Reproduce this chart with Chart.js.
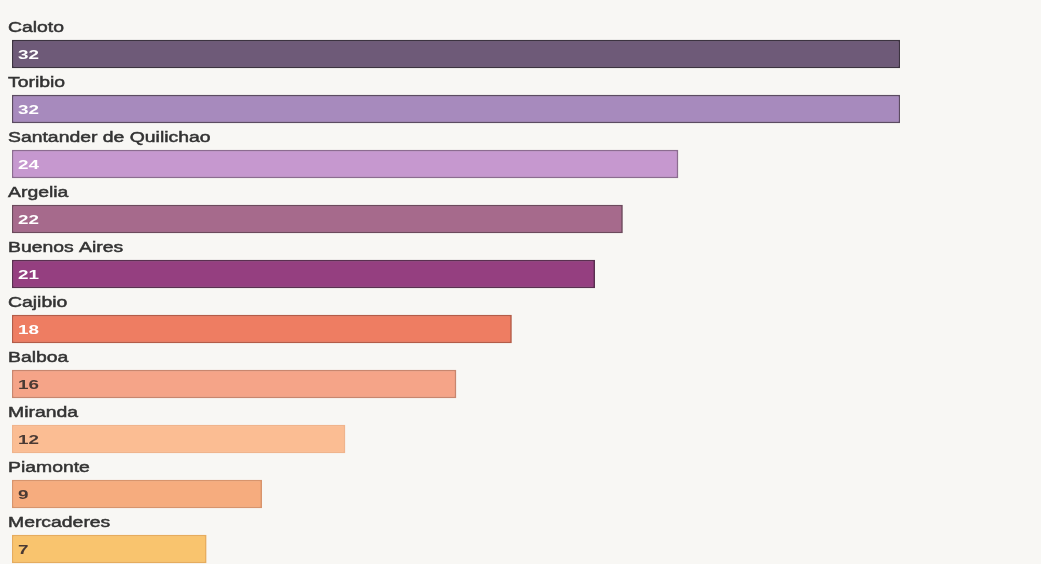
<!DOCTYPE html>
<html>
<head>
<meta charset="utf-8">
<script src="https://cdn.jsdelivr.net/npm/chart.js@4/dist/chart.umd.min.js"></script>
<style>
  html, body { margin: 0; padding: 0; background: #f8f7f4; overflow: hidden; }
  #wrap { position: absolute; left: 0; top: 0; width: 1041px; height: 580px; }
</style>
</head>
<body>
<div id="wrap"><canvas id="chart"></canvas></div>
<script>
const municipios = ['Caloto', 'Toribio', 'Santander de Quilichao', 'Argelia', 'Buenos Aires',
  'Cajibio', 'Balboa', 'Miranda', 'Piamonte', 'Mercaderes'];
const casos = [32, 32, 24, 22, 21, 18, 16, 12, 9, 7];
const fillColors = ['#6e5a78', '#a78abd', '#c698cf', '#a66a8c', '#953f80',
  '#ee7d62', '#f5a488', '#fbbd93', '#f6ac7e', '#f9c46e'];
const borderColors = ['#3c3340', '#5c4c62', '#8c6c90', '#6c4a5c', '#5a3050',
  '#b45c48', '#c8866e', '#f0b48c', '#d8946c', '#e6ac5e'];
const valueColors = ['#ffffff', '#ffffff', '#ffffff', '#ffffff', '#ffffff',
  '#ffffff', '#4a3a34', '#4a3a34', '#4a3a34', '#4a3a34'];

// nombre encima de cada barra y valor dentro, a la izquierda
// (el original esta estirado a lo ancho, por eso el scale en x)
const barLabels = {
  id: 'barLabels',
  afterDatasetsDraw(chart) {
    const ctx = chart.ctx;
    const bars = chart.getDatasetMeta(0).data;
    bars.forEach((bar, i) => {
      ctx.save();
      ctx.textBaseline = 'middle';
      ctx.textAlign = 'left';
      ctx.translate(8, bar.y - 26);
      ctx.scale(1.25, 1);
      ctx.fillStyle = '#333333';
      ctx.strokeStyle = '#333333';
      ctx.lineWidth = 0.5;
      ctx.font = '15.5px "Liberation Sans", Arial, sans-serif';
      ctx.fillText(municipios[i], 0, 0);
      ctx.strokeText(municipios[i], 0, 0);
      ctx.restore();

      ctx.save();
      ctx.textBaseline = 'middle';
      ctx.textAlign = 'left';
      ctx.translate(18, bar.y + 1);
      ctx.scale(1.45, 1);
      ctx.fillStyle = valueColors[i];
      ctx.font = 'bold 13px "Liberation Sans", Arial, sans-serif';
      ctx.fillText(String(casos[i]), 0, 0);
      ctx.restore();
    });
  }
};

new Chart(document.getElementById('chart'), {
  type: 'bar',
  data: {
    labels: municipios,
    datasets: [{
      data: casos,
      backgroundColor: fillColors,
      borderColor: borderColors,
      borderWidth: 1.5,
      borderSkipped: false,
      barThickness: 28
    }]
  },
  options: {
    indexAxis: 'y',
    responsive: true,
    maintainAspectRatio: false,
    animation: false,
    layout: { padding: { left: 12, right: 141, top: 26.5, bottom: 3.5 } },
    scales: {
      x: { display: false, min: 0, max: 32 },
      y: { display: false }
    },
    plugins: {
      legend: { display: false },
      tooltip: { enabled: false }
    }
  },
  plugins: [barLabels]
});
</script>
</body>
</html>
